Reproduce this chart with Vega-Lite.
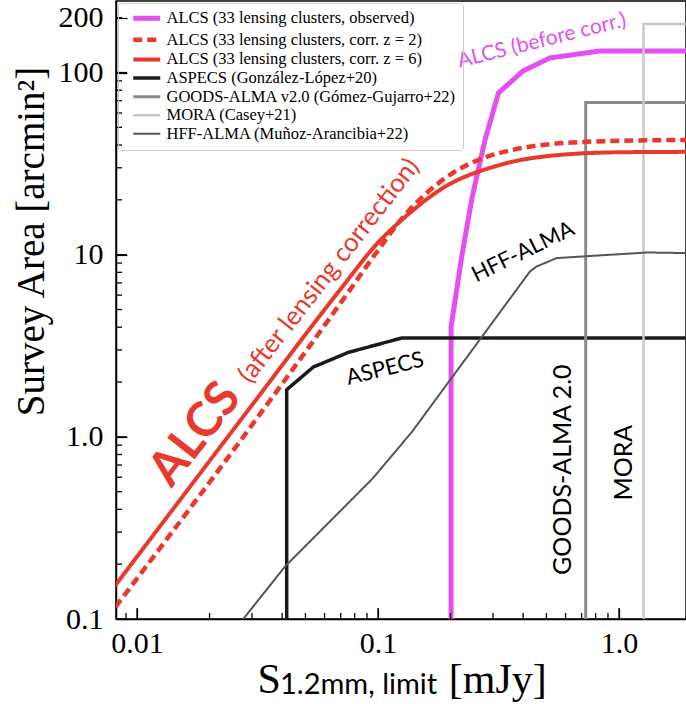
{
  "$schema": "https://vega.github.io/schema/vega-lite/v6.json",
  "width": 570,
  "height": 618,
  "autosize": {"type": "none"},
  "padding": {"left": 116, "top": 1, "right": 0, "bottom": 85},
  "background": "white",
  "config": {
    "view": {"stroke": "black", "strokeWidth": 1.5},
    "font": "Liberation Serif"
  },
  "title": {
    "text": "1.2mm, limit",
    "orient": "bottom",
    "anchor": "start",
    "frame": "group",
    "dx": 164,
    "dy": -7,
    "offset": 0,
    "font": "Lato",
    "fontSize": 29,
    "fontWeight": "normal",
    "color": "black",
    "baseline": "alphabetic"
  },
  "resolve": {"axis": {"x": "independent", "y": "independent"}},
  "datasets": {
    "curves": [
      {"series": "ALCS (33 lensing clusters, observed)", "i": 0, "x": 0.201, "y": 0.09},
      {"series": "ALCS (33 lensing clusters, observed)", "i": 1, "x": 0.201, "y": 4.02},
      {"series": "ALCS (33 lensing clusters, observed)", "i": 2, "x": 0.2232, "y": 9.99},
      {"series": "ALCS (33 lensing clusters, observed)", "i": 3, "x": 0.2455, "y": 20.5},
      {"series": "ALCS (33 lensing clusters, observed)", "i": 4, "x": 0.278, "y": 42.7},
      {"series": "ALCS (33 lensing clusters, observed)", "i": 5, "x": 0.3162, "y": 77.3},
      {"series": "ALCS (33 lensing clusters, observed)", "i": 6, "x": 0.3997, "y": 102},
      {"series": "ALCS (33 lensing clusters, observed)", "i": 7, "x": 0.5173, "y": 120.3},
      {"series": "ALCS (33 lensing clusters, observed)", "i": 8, "x": 0.834, "y": 131.3},
      {"series": "ALCS (33 lensing clusters, observed)", "i": 9, "x": 2.0, "y": 131.3},

      {"series": "ALCS (33 lensing clusters, corr. z = 2)", "i": 0, "x": 0.0075, "y": 0.101},
      {"series": "ALCS (33 lensing clusters, corr. z = 2)", "i": 1, "x": 0.02944, "y": 1.123},
      {"series": "ALCS (33 lensing clusters, corr. z = 2)", "i": 2, "x": 0.0696, "y": 5.38},
      {"series": "ALCS (33 lensing clusters, corr. z = 2)", "i": 3, "x": 0.099, "y": 10.37},
      {"series": "ALCS (33 lensing clusters, corr. z = 2)", "i": 4, "x": 0.1234, "y": 15.35},
      {"series": "ALCS (33 lensing clusters, corr. z = 2)", "i": 5, "x": 0.1809, "y": 25.1},
      {"series": "ALCS (33 lensing clusters, corr. z = 2)", "i": 6, "x": 0.3208, "y": 36.2},
      {"series": "ALCS (33 lensing clusters, corr. z = 2)", "i": 7, "x": 0.7088, "y": 41.6},
      {"series": "ALCS (33 lensing clusters, corr. z = 2)", "i": 8, "x": 2.0, "y": 42.7},

      {"series": "ALCS (33 lensing clusters, corr. z = 6)", "i": 0, "x": 0.0075, "y": 0.133},
      {"series": "ALCS (33 lensing clusters, corr. z = 6)", "i": 1, "x": 0.02944, "y": 1.446},
      {"series": "ALCS (33 lensing clusters, corr. z = 6)", "i": 2, "x": 0.0696, "y": 6.42},
      {"series": "ALCS (33 lensing clusters, corr. z = 6)", "i": 3, "x": 0.099, "y": 11.47},
      {"series": "ALCS (33 lensing clusters, corr. z = 6)", "i": 4, "x": 0.1358, "y": 16.98},
      {"series": "ALCS (33 lensing clusters, corr. z = 6)", "i": 5, "x": 0.1809, "y": 22.7},
      {"series": "ALCS (33 lensing clusters, corr. z = 6)", "i": 6, "x": 0.3208, "y": 31.1},
      {"series": "ALCS (33 lensing clusters, corr. z = 6)", "i": 7, "x": 0.569, "y": 35.3},
      {"series": "ALCS (33 lensing clusters, corr. z = 6)", "i": 8, "x": 1.0095, "y": 36.5},
      {"series": "ALCS (33 lensing clusters, corr. z = 6)", "i": 9, "x": 2.0, "y": 36.7},

      {"series": "ASPECS (González-López+20)", "i": 0, "x": 0.0418, "y": 0.09},
      {"series": "ASPECS (González-López+20)", "i": 1, "x": 0.0418, "y": 1.815},
      {"series": "ASPECS (González-López+20)", "i": 2, "x": 0.0539, "y": 2.417},
      {"series": "ASPECS (González-López+20)", "i": 3, "x": 0.0753, "y": 2.908},
      {"series": "ASPECS (González-López+20)", "i": 4, "x": 0.1254, "y": 3.487},
      {"series": "ASPECS (González-López+20)", "i": 5, "x": 2.0, "y": 3.487},

      {"series": "GOODS-ALMA v2.0 (Gómez-Gujarro+22)", "i": 0, "x": 0.7275, "y": 0.09},
      {"series": "GOODS-ALMA v2.0 (Gómez-Gujarro+22)", "i": 1, "x": 0.7275, "y": 68.4},
      {"series": "GOODS-ALMA v2.0 (Gómez-Gujarro+22)", "i": 2, "x": 2.0, "y": 68.4},

      {"series": "MORA (Casey+21)", "i": 0, "x": 1.264, "y": 0.09},
      {"series": "MORA (Casey+21)", "i": 1, "x": 1.264, "y": 184.8},
      {"series": "MORA (Casey+21)", "i": 2, "x": 2.0, "y": 184.8},

      {"series": "HFF-ALMA (Muñoz-Arancibia+22)", "i": 0, "x": 0.0259, "y": 0.09},
      {"series": "HFF-ALMA (Muñoz-Arancibia+22)", "i": 1, "x": 0.0411, "y": 0.194},
      {"series": "HFF-ALMA (Muñoz-Arancibia+22)", "i": 2, "x": 0.0949, "y": 0.5897},
      {"series": "HFF-ALMA (Muñoz-Arancibia+22)", "i": 3, "x": 0.138, "y": 1.061},
      {"series": "HFF-ALMA (Muñoz-Arancibia+22)", "i": 4, "x": 0.4272, "y": 8.09},
      {"series": "HFF-ALMA (Muñoz-Arancibia+22)", "i": 5, "x": 0.4556, "y": 8.62},
      {"series": "HFF-ALMA (Muñoz-Arancibia+22)", "i": 6, "x": 0.5514, "y": 9.58},
      {"series": "HFF-ALMA (Muñoz-Arancibia+22)", "i": 7, "x": 1.303, "y": 10.28},
      {"series": "HFF-ALMA (Muñoz-Arancibia+22)", "i": 8, "x": 2.0, "y": 10.2}
    ],
    "xmajor": [{"v": 0.01}, {"v": 0.1}, {"v": 1}],
    "xminor": [{"v": 0.009}, {"v": 0.02}, {"v": 0.03}, {"v": 0.04}, {"v": 0.05}, {"v": 0.06}, {"v": 0.07}, {"v": 0.08}, {"v": 0.09}, {"v": 0.2}, {"v": 0.3}, {"v": 0.4}, {"v": 0.5}, {"v": 0.6}, {"v": 0.7}, {"v": 0.8}, {"v": 0.9}],
    "ymajor": [{"v": 0.1}, {"v": 1}, {"v": 10}, {"v": 100}],
    "yminor": [{"v": 0.2}, {"v": 0.3}, {"v": 0.4}, {"v": 0.5}, {"v": 0.6}, {"v": 0.7}, {"v": 0.8}, {"v": 0.9}, {"v": 2}, {"v": 3}, {"v": 4}, {"v": 5}, {"v": 6}, {"v": 7}, {"v": 8}, {"v": 9}, {"v": 20}, {"v": 30}, {"v": 40}, {"v": 50}, {"v": 60}, {"v": 70}, {"v": 80}, {"v": 90}, {"v": 200}]
  },
  "layer": [
    {
      "data": {"name": "curves"},
      "transform": [{"filter": "indexof(datum.series, 'corr. z') < 0"}],
      "mark": {"type": "line", "clip": true},
      "encoding": {
        "x": {
          "field": "x",
          "type": "quantitative",
          "scale": {"type": "log", "domain": [0.00818, 1.897], "nice": false, "zero": false},
          "axis": {
            "orient": "bottom",
            "values": [0.01, 0.1, 1],
            "labelExpr": "datum.value == 0.01 ? '0.01' : datum.value == 0.1 ? '0.1' : '1.0'",
            "ticks": true,
            "tickSize": -11,
            "tickColor": "black",
            "tickWidth": 1.2,
            "domainColor": "black",
            "domainWidth": 1.5,
            "grid": false,
            "labelFont": "Liberation Serif",
            "labelFontSize": 30,
            "labelColor": "black",
            "labelPadding": 20,
            "labelFlush": false,
            "labelOverlap": false,
            "title": "S\u00a0\u00a0\u00a0\u00a0\u00a0\u00a0\u00a0\u00a0\u00a0\u00a0\u00a0\u00a0\u00a0\u00a0\u00a0\u00a0[mJy]",
            "titleFont": "Liberation Serif",
            "titleFontSize": 42,
            "titleFontWeight": "normal",
            "titleColor": "black",
            "titleX": 141,
            "titleY": 73.5,
            "titleAlign": "left",
            "titleBaseline": "alphabetic"
          }
        },
        "y": {
          "field": "y",
          "type": "quantitative",
          "scale": {"type": "log", "domain": [0.1, 247], "nice": false, "zero": false},
          "axis": {
            "orient": "left",
            "values": [0.1, 1, 10, 100, 200],
            "labelExpr": "datum.value == 0.1 ? '0.1' : datum.value == 1 ? '1.0' : datum.value == 10 ? '10' : datum.value == 100 ? '100' : '200'",
            "ticks": true,
            "tickSize": -11,
            "tickColor": "black",
            "tickWidth": 1.2,
            "domainColor": "black",
            "domainWidth": 1.5,
            "grid": false,
            "labelFont": "Liberation Serif",
            "labelFontSize": 30,
            "labelColor": "black",
            "labelPadding": 24,
            "labelFlush": false,
            "labelOverlap": false,
            "title": "Survey Area [arcmin²]",
            "titleFont": "Liberation Serif",
            "titleFontSize": 39,
            "titleFontWeight": "normal",
            "titleColor": "black",
            "titleAngle": 270,
            "titleX": -73,
            "titleY": 240,
            "titleAlign": "center",
            "titleBaseline": "alphabetic"
          }
        },
        "order": {"field": "i", "type": "quantitative"},
        "color": {
          "field": "series",
          "type": "nominal",
          "scale": {
            "domain": ["ALCS (33 lensing clusters, observed)", "ALCS (33 lensing clusters, corr. z = 2)", "ALCS (33 lensing clusters, corr. z = 6)", "ASPECS (González-López+20)", "GOODS-ALMA v2.0 (Gómez-Gujarro+22)", "MORA (Casey+21)", "HFF-ALMA (Muñoz-Arancibia+22)"],
            "range": ["#e44ff0", "#e8392c", "#e8392c", "#1a1a1a", "#8a8a8a", "#c8c8c8", "#555555"]
          },
          "legend": {
            "title": null,
            "orient": "none",
            "legendX": 2,
            "legendY": 2,
            "symbolType": "M0,0H5.4",
            "symbolSize": 100,
            "labelOffset": 25,
            "labelFont": "Liberation Serif",
            "labelFontSize": 16.5,
            "labelColor": "black",
            "labelLimit": 500,
            "rowPadding": 1.6,
            "padding": 7,
            "strokeColor": "#cccccc",
            "cornerRadius": 3
          }
        },
        "strokeDash": {
          "field": "series",
          "type": "nominal",
          "scale": {
            "domain": ["ALCS (33 lensing clusters, observed)", "ALCS (33 lensing clusters, corr. z = 2)", "ALCS (33 lensing clusters, corr. z = 6)", "ASPECS (González-López+20)", "GOODS-ALMA v2.0 (Gómez-Gujarro+22)", "MORA (Casey+21)", "HFF-ALMA (Muñoz-Arancibia+22)"],
            "range": [[1, 0], [9, 5], [1, 0], [1, 0], [1, 0], [1, 0], [1, 0]]
          }
        },
        "strokeWidth": {
          "field": "series",
          "type": "nominal",
          "scale": {
            "domain": ["ALCS (33 lensing clusters, observed)", "ALCS (33 lensing clusters, corr. z = 2)", "ALCS (33 lensing clusters, corr. z = 6)", "ASPECS (González-López+20)", "GOODS-ALMA v2.0 (Gómez-Gujarro+22)", "MORA (Casey+21)", "HFF-ALMA (Muñoz-Arancibia+22)"],
            "range": [5, 2, 2, 1.3, 1, 1, 1.1]
          }
        }
      }
    },
    {
      "data": {"name": "curves"},
      "transform": [{"filter": "indexof(datum.series, 'corr. z') >= 0"}],
      "mark": {"type": "line", "clip": true, "interpolate": "monotone"},
      "encoding": {
        "x": {"field": "x", "type": "quantitative", "axis": null},
        "y": {"field": "y", "type": "quantitative", "axis": null},
        "order": {"field": "i", "type": "quantitative"},
        "color": {
          "field": "series",
          "type": "nominal",
          "scale": {
            "domain": ["ALCS (33 lensing clusters, observed)", "ALCS (33 lensing clusters, corr. z = 2)", "ALCS (33 lensing clusters, corr. z = 6)", "ASPECS (González-López+20)", "GOODS-ALMA v2.0 (Gómez-Gujarro+22)", "MORA (Casey+21)", "HFF-ALMA (Muñoz-Arancibia+22)"],
            "range": ["#e44ff0", "#e8392c", "#e8392c", "#1a1a1a", "#8a8a8a", "#c8c8c8", "#555555"]
          }
        },
        "strokeDash": {"field": "series", "type": "nominal"},
        "strokeWidth": {"field": "series", "type": "nominal"}
      }
    },
    {
      "data": {"values": [{"x": 0.479, "y": 149, "label": "ALCS (before corr.)"}]},
      "mark": {"type": "text", "font": "Lato", "fontSize": 21, "angle": -14, "color": "#e44ff0", "align": "center", "baseline": "middle"},
      "encoding": {
        "x": {"field": "x", "type": "quantitative", "axis": null},
        "y": {"field": "y", "type": "quantitative", "axis": null},
        "text": {"field": "label"}
      }
    },
    {
      "data": {"values": [{"x": 0.01757, "y": 1.028, "label": "ALCS"}]},
      "mark": {"type": "text", "font": "Lato", "fontSize": 48, "fontWeight": "bold", "angle": -52, "color": "#e8392c", "align": "center", "baseline": "middle"},
      "encoding": {
        "x": {"field": "x", "type": "quantitative", "axis": null},
        "y": {"field": "y", "type": "quantitative", "axis": null},
        "text": {"field": "label"}
      }
    },
    {
      "data": {"values": [{"x": 0.0626, "y": 8.16, "label": "(after lensing correction)"}]},
      "mark": {"type": "text", "font": "Lato", "fontSize": 26, "angle": -52, "color": "#e8392c", "align": "center", "baseline": "middle"},
      "encoding": {
        "x": {"field": "x", "type": "quantitative", "axis": null},
        "y": {"field": "y", "type": "quantitative", "axis": null},
        "text": {"field": "label"}
      }
    },
    {
      "data": {"values": [{"x": 0.1069, "y": 2.366, "label": "ASPECS"}]},
      "mark": {"type": "text", "font": "Lato", "fontSize": 22, "angle": -14, "color": "black", "align": "center", "baseline": "middle"},
      "encoding": {
        "x": {"field": "x", "type": "quantitative", "axis": null},
        "y": {"field": "y", "type": "quantitative", "axis": null},
        "text": {"field": "label"}
      }
    },
    {
      "data": {"values": [{"x": 0.3997, "y": 10.37, "label": "HFF-ALMA"}]},
      "mark": {"type": "text", "font": "Lato", "fontSize": 22, "angle": -26, "color": "black", "align": "center", "baseline": "middle"},
      "encoding": {
        "x": {"field": "x", "type": "quantitative", "axis": null},
        "y": {"field": "y", "type": "quantitative", "axis": null},
        "text": {"field": "label"}
      }
    },
    {
      "data": {"values": [{"x": 0.5856, "y": 0.6606, "label": "GOODS-ALMA 2.0"}]},
      "mark": {"type": "text", "font": "Lato", "fontSize": 25, "angle": -90, "color": "black", "align": "center", "baseline": "middle"},
      "encoding": {
        "x": {"field": "x", "type": "quantitative", "axis": null},
        "y": {"field": "y", "type": "quantitative", "axis": null},
        "text": {"field": "label"}
      }
    },
    {
      "data": {"values": [{"x": 1.049, "y": 0.722, "label": "MORA"}]},
      "mark": {"type": "text", "font": "Lato", "fontSize": 25, "angle": -90, "color": "black", "align": "center", "baseline": "middle"},
      "encoding": {
        "x": {"field": "x", "type": "quantitative", "axis": null},
        "y": {"field": "y", "type": "quantitative", "axis": null},
        "text": {"field": "label"}
      }
    },
    {
      "data": {"name": "xmajor"},
      "mark": {"type": "rule", "color": "black", "strokeWidth": 1.3},
      "encoding": {
        "x": {"field": "v", "type": "quantitative", "axis": null},
        "y": {"datum": 0.1, "type": "quantitative", "axis": null},
        "y2": {"datum": 0.1149}
      }
    },
    {
      "data": {"name": "xminor"},
      "mark": {"type": "rule", "color": "black", "strokeWidth": 1.3},
      "encoding": {
        "x": {"field": "v", "type": "quantitative", "axis": null},
        "y": {"datum": 0.1, "type": "quantitative", "axis": null},
        "y2": {"datum": 0.1079}
      }
    },
    {
      "data": {"name": "ymajor"},
      "mark": {"type": "rule", "color": "black", "strokeWidth": 1.3},
      "encoding": {
        "y": {"field": "v", "type": "quantitative", "axis": null},
        "x": {"datum": 0.00818, "type": "quantitative", "axis": null},
        "x2": {"datum": 0.009087}
      }
    },
    {
      "data": {"name": "yminor"},
      "mark": {"type": "rule", "color": "black", "strokeWidth": 1.3},
      "encoding": {
        "y": {"field": "v", "type": "quantitative", "axis": null},
        "x": {"datum": 0.00818, "type": "quantitative", "axis": null},
        "x2": {"datum": 0.008663}
      }
    }
  ]
}
